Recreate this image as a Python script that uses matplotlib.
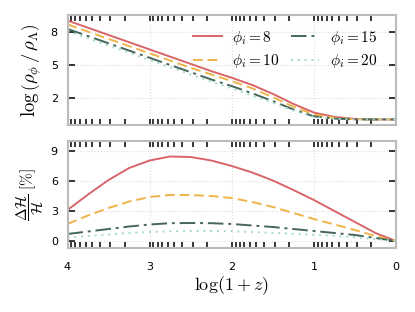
import numpy as np
import matplotlib
matplotlib.use("Agg")
import matplotlib.pyplot as plt

plt.rcParams['mathtext.fontset'] = 'cm'
plt.rcParams['font.family'] = ['DejaVu Sans']

x = [4, 3.75, 3.5, 3.25, 3, 2.75, 2.5, 2.25, 2, 1.75, 1.5, 1.25, 1, 0.75, 0.5, 0.25, 0]

rho_8 = [9.0, 8.35, 7.7, 7.05, 6.4, 5.75, 5.1, 4.45, 3.85, 3.2, 2.4, 1.5, 0.72, 0.33, 0.15, 0.1, 0.1]
rho_10 = [8.65, 8.0, 7.35, 6.7, 6.05, 5.4, 4.75, 4.15, 3.55, 2.9, 2.1, 1.25, 0.55, 0.25, 0.12, 0.1, 0.1]
rho_15 = [8.25, 7.6, 6.95, 6.3, 5.65, 5.0, 4.35, 3.7, 3.1, 2.45, 1.75, 1.0, 0.38, 0.18, 0.1, 0.1, 0.1]
rho_20 = [8.05, 7.4, 6.75, 6.1, 5.45, 4.8, 4.15, 3.5, 2.9, 2.25, 1.6, 0.9, 0.32, 0.15, 0.1, 0.1, 0.1]

dh_8 = [3.1, 4.65, 6.1, 7.3, 8.05, 8.45, 8.4, 8.05, 7.5, 6.85, 6.05, 5.1, 4.1, 3.0, 1.9, 0.8, 0.0]
dh_10 = [1.7, 2.55, 3.3, 3.95, 4.4, 4.6, 4.6, 4.5, 4.3, 3.9, 3.4, 2.8, 2.2, 1.65, 1.1, 0.5, 0.0]
dh_15 = [0.7, 0.95, 1.2, 1.45, 1.65, 1.78, 1.8, 1.78, 1.7, 1.55, 1.4, 1.2, 1.0, 0.8, 0.6, 0.3, 0.0]
dh_20 = [0.35, 0.5, 0.65, 0.8, 0.9, 0.97, 1.0, 1.0, 0.98, 0.9, 0.8, 0.72, 0.62, 0.5, 0.38, 0.2, 0.0]

labels = [r'$\phi_i = 8$', r'$\phi_i = 10$', r'$\phi_i = 15$', r'$\phi_i = 20$']
colors = ['#d9656a', '#efb348', '#46665a', '#a3d9c8']
styles = ['-', (0, (5, 2.5)), (0, (8, 2.5, 1.5, 2.5)), (0, (1, 2.5))]

xticks = [4, 3, 2, 1, 0]
yticks_top = [2, 5, 8]
yticks_bot = [0, 3, 6, 9]

fig = plt.figure(figsize=(4.15, 3.12), dpi=100)
ax1 = fig.add_axes([67.5/415, 1-125/312, (396-67.5)/415, (125-15)/312])
ax2 = fig.add_axes([67.5/415, 1-248/312, (396-67.5)/415, (248-141)/312])

for ax, series in [(ax1, [rho_8, rho_10, rho_15, rho_20]), (ax2, [dh_8, dh_10, dh_15, dh_20])]:
    for s, c, ls, lab in zip(series, colors, styles, labels):
        ax.plot(x, s, color=c, ls=ls, lw=1.4, label=lab)
    ax.set_xlim(4, 0)
    for sp in ax.spines.values():
        sp.set_color('#bbbbbb')
        sp.set_linewidth(1.5)
    ax.grid(True, color='#dddddd', ls=':', lw=0.8)
    ax.set_xticks(xticks)
    minor = [n + np.log10(k) for n in range(4) for k in range(1, 10)]
    ax.set_xticks(minor, minor=True)
    ax.tick_params(axis='x', which='both', direction='in', top=True, bottom=True,
                   length=4, width=1.1, color='black', labelsize=8)
    ax.tick_params(axis='y', which='both', direction='in', left=True, right=True,
                   length=5, width=1.1, color='black', labelsize=8, pad=7)

ax1.set_ylim(-0.4, 9.5)
ax1.set_yticks(yticks_top)
ax1.tick_params(axis='x', labelbottom=False)
ax1.set_ylabel(r'$\log\left(\rho_\phi\,/\,\rho_\Lambda\right)$', fontsize=13.5, labelpad=5)
ax1.legend(ncol=2, frameon=False, fontsize=11, loc='upper right',
           bbox_to_anchor=(0.985, 1.0), handlelength=1.85, columnspacing=0.7,
           handletextpad=0.7, labelspacing=0.35)

ax2.set_ylim(-0.7, 10)
ax2.set_yticks(yticks_bot)
ax2.set_xticklabels([str(t) for t in xticks])
ax2.set_ylabel(r'$\dfrac{\Delta\mathcal{H}}{\mathcal{H}}\;[\%]$', fontsize=11, labelpad=3)
ax2.set_xlabel(r'$\log(1+z)$', fontsize=13, labelpad=2)
ax2.tick_params(axis='x', pad=10)

fig.savefig('out.png', dpi=100)
